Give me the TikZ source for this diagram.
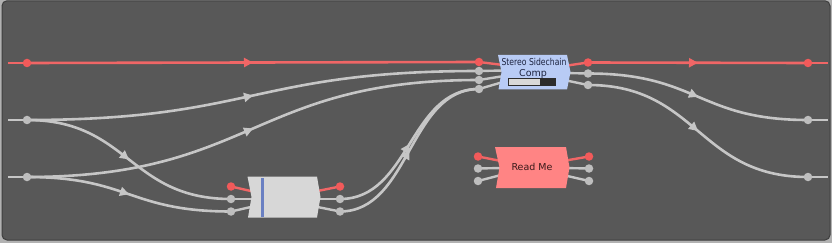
\documentclass[tikz,border=0pt]{standalone}
\usepackage{fontspec}
\setmainfont{DejaVu Sans}
\usetikzlibrary{decorations.markings,arrows.meta}
\definecolor{bgdark}{HTML}{585858}
\definecolor{framelight}{HTML}{B2B2B2}
\definecolor{frameline}{HTML}{3E3E3E}
\definecolor{wiregray}{HTML}{C6C6C6}
\definecolor{wirered}{HTML}{F06666}
\definecolor{dotred}{HTML}{F25A5A}
\definecolor{dotgray}{HTML}{BEBEBE}
\definecolor{sscfill}{HTML}{B8CBF5}
\definecolor{boxgray}{HTML}{D7D7D7}
\definecolor{barblue}{HTML}{6A80C2}
\definecolor{readfill}{HTML}{FF8484}
\definecolor{textdark}{HTML}{1E2440}
\definecolor{textred}{HTML}{3A1A1A}
\definecolor{meterlight}{HTML}{D8D8D8}
\definecolor{meterdark}{HTML}{2C2C2C}
\tikzset{
  wire/.style={line width=2.6pt, draw=wiregray, postaction={decorate},
    decoration={markings, mark=at position 0.5 with {\arrow{Triangle[length=9pt,width=9pt]}}}},
  redwire/.style={wire, draw=wirered},
  stub/.style={line width=2.4pt, draw=wiregray},
  redstub/.style={stub, draw=wirered},
  gdot/.style={circle, fill=dotgray, inner sep=0pt, minimum size=8.5pt},
  rdot/.style={circle, fill=dotred, inner sep=0pt, minimum size=8.5pt},
  label/.style={inner sep=0pt, font=\fontsize{9.5}{10}\selectfont},
}
\begin{document}
\begin{tikzpicture}[x=1pt,y=-1pt]
\useasboundingbox (0,0) rectangle (832,243);
% frame
\fill[framelight] (0,0) rectangle (832,243);
\filldraw[fill=bgdark, draw=frameline, line width=1pt, rounded corners=5pt] (2,0.8) rectangle (830,240);

% coordinates: outer inputs/outputs
\coordinate (eR) at (8,63);   \coordinate (inR) at (27,63);
\coordinate (eA) at (8,120);  \coordinate (inA) at (27,120);
\coordinate (eB) at (8,177);  \coordinate (inB) at (27,177);
\coordinate (fR) at (828,63);  \coordinate (outR) at (808,63);
\coordinate (fA) at (828,120); \coordinate (outA) at (808,120);
\coordinate (fB) at (828,177); \coordinate (outB) at (808,177);
% Stereo Sidechain Comp ports
\coordinate (s1) at (479,62);  \coordinate (s1e) at (503,65);
\coordinate (s2) at (479,71);  \coordinate (s2e) at (504,70.5);
\coordinate (s3) at (479,80);  \coordinate (s3e) at (504,76);
\coordinate (s4) at (479,89);  \coordinate (s4e) at (503,82);
\coordinate (so1) at (588,62.5); \coordinate (so1e) at (564,66);
\coordinate (so2) at (588,73.5); \coordinate (so2e) at (564,73);
\coordinate (so3) at (588,85);   \coordinate (so3e) at (564,80);
% gray box ports
\coordinate (g1) at (231,186.5); \coordinate (g1e) at (253,191.5);
\coordinate (g2) at (231,199);   \coordinate (g2e) at (254,199);
\coordinate (g3) at (231,211.5); \coordinate (g3e) at (253,206.5);
\coordinate (go1) at (340,186.5); \coordinate (go1e) at (315,191.5);
\coordinate (go2) at (340,199);   \coordinate (go2e) at (315,199);
\coordinate (go3) at (340,211.5); \coordinate (go3e) at (315,206.5);
% Read Me ports
\coordinate (r1) at (478,156.5); \coordinate (r1e) at (501,161);
\coordinate (r2) at (478,168.5); \coordinate (r2e) at (502,168);
\coordinate (r3) at (478,181);   \coordinate (r3e) at (501,175);
\coordinate (ro1) at (589,156.5); \coordinate (ro1e) at (563,161);
\coordinate (ro2) at (589,168.5); \coordinate (ro2e) at (563,168);
\coordinate (ro3) at (589,181);   \coordinate (ro3e) at (563,175);

% edge stubs
\draw[redstub] (eR) -- (inR);
\draw[stub] (eA) -- (inA);
\draw[stub] (eB) -- (inB);
\draw[redstub] (outR) -- (fR);
\draw[stub] (outA) -- (fA);
\draw[stub] (outB) -- (fB);

% port stubs
\draw[redstub] (s1) -- (s1e);
\draw[stub] (s2) -- (s2e);
\draw[stub] (s3) -- (s3e);
\draw[stub] (s4) -- (s4e);
\draw[redstub] (so1) -- (so1e);
\draw[stub] (so2) -- (so2e);
\draw[stub] (so3) -- (so3e);
\draw[redstub] (g1) -- (g1e);
\draw[stub] (g2) -- (g2e);
\draw[stub] (g3) -- (g3e);
\draw[redstub] (go1) -- (go1e);
\draw[stub] (go2) -- (go2e);
\draw[stub] (go3) -- (go3e);
\draw[redstub] (r1) -- (r1e);
\draw[stub] (r2) -- (r2e);
\draw[stub] (r3) -- (r3e);
\draw[redstub] (ro1) -- (ro1e);
\draw[stub] (ro2) -- (ro2e);
\draw[stub] (ro3) -- (ro3e);

% connectors
\draw[redwire] (inR) .. controls +(226,0) and +(-226,0) .. (s1);
\draw[wire] (inA) .. controls +(226,0) and +(-226,0) .. (s2);
\draw[wire] (inB) .. controls +(226,0) and +(-226,0) .. (s3);
\draw[wire] (inA) .. controls +(102,0) and +(-102,0) .. (g2);
\draw[wire] (inB) .. controls +(102,0) and +(-102,0) .. (g3);
\draw[wire] (go2) .. controls +(70,0) and +(-70,0) .. (s4);
\draw[wire] (go3) .. controls +(70,0) and +(-70,0) .. (s4);
\draw[redwire] (so1) .. controls +(110,0) and +(-110,0) .. (outR);
\draw[wire] (so2) .. controls +(110,0) and +(-110,0) .. (outA);
\draw[wire] (so3) .. controls +(110,0) and +(-110,0) .. (outB);

% boxes
\fill[sscfill] (498,55) -- (567,55) -- (570.5,72) -- (567,89.5) -- (498.5,89.5) -- (501.5,72) -- cycle;
\fill[boxgray] (247.5,176.5) -- (317,176.5) -- (320.5,197) -- (317,217.5) -- (248,217.5) -- (251.5,197) -- cycle;
\fill[readfill] (495,147) -- (566,147) -- (569.5,167.5) -- (566,188) -- (496,188) -- (499.5,167.5) -- cycle;

% box contents
\node[label, text=textdark] (ssct1) at (534,62) {\scalebox{0.81}[1]{Stereo Sidechain}};
\node[label, text=textdark] (ssct2) at (533,73.5) {Comp};
\filldraw[fill=meterlight, draw=meterdark, line width=0.7pt] (508.5,78.5) rectangle (555,85);
\fill[meterdark] (540,78.5) rectangle (555,85);
\fill[barblue] (260.5,178) rectangle (264,216.5);
\node[label, text=textred] (readme) at (532,166.5) {Read Me};

% dots
\node[rdot] (inRd) at (inR) {};
\node[gdot] (inAd) at (inA) {};
\node[gdot] (inBd) at (inB) {};
\node[rdot] (outRd) at (outR) {};
\node[gdot] (outAd) at (outA) {};
\node[gdot] (outBd) at (outB) {};
\node[rdot] (s1d) at (s1) {};
\node[gdot] (s2d) at (s2) {};
\node[gdot] (s3d) at (s3) {};
\node[gdot] (s4d) at (s4) {};
\node[rdot] (so1d) at (so1) {};
\node[gdot] (so2d) at (so2) {};
\node[gdot] (so3d) at (so3) {};
\node[rdot] (g1d) at (g1) {};
\node[gdot] (g2d) at (g2) {};
\node[gdot] (g3d) at (g3) {};
\node[rdot] (go1d) at (go1) {};
\node[gdot] (go2d) at (go2) {};
\node[gdot] (go3d) at (go3) {};
\node[rdot] (r1d) at (r1) {};
\node[gdot] (r2d) at (r2) {};
\node[gdot] (r3d) at (r3) {};
\node[rdot] (ro1d) at (ro1) {};
\node[gdot] (ro2d) at (ro2) {};
\node[gdot] (ro3d) at (ro3) {};
\end{tikzpicture}
\end{document}
